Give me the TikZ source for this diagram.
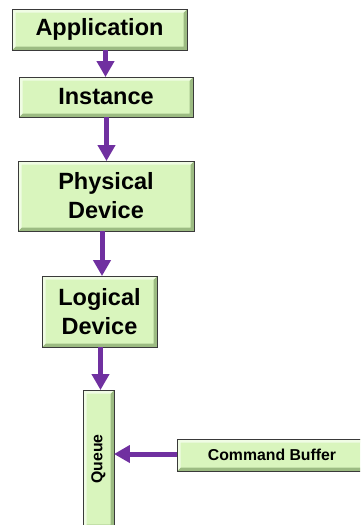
\documentclass[tikz,border=0pt]{standalone}
\usepackage{fontspec}
\setmainfont{Liberation Sans}
\usetikzlibrary{arrows.meta}
\definecolor{boxfill}{HTML}{D9F5BD}
\definecolor{bevdark}{HTML}{9CBB82}
\definecolor{bevlight}{HTML}{F0FCE4}
\definecolor{edge}{HTML}{3A3A3A}
\definecolor{flow}{HTML}{7030A0}
\tikzset{
  bevelbox/.style={draw=edge, line width=0.9pt, fill=boxfill, inner sep=0pt,
    align=center, text=black, anchor=center,
    path picture={
      \fill[bevdark] (path picture bounding box.south west)
        -- (path picture bounding box.south east)
        -- (path picture bounding box.north east)
        -- ([xshift=-3.5pt,yshift=-3.5pt]path picture bounding box.north east)
        -- ([xshift=-3.5pt,yshift=3.5pt]path picture bounding box.south east)
        -- ([xshift=3.5pt,yshift=3.5pt]path picture bounding box.south west) -- cycle;
      \fill[bevlight] (path picture bounding box.south west)
        -- (path picture bounding box.north west)
        -- (path picture bounding box.north east)
        -- ([xshift=-3.5pt,yshift=-3.5pt]path picture bounding box.north east)
        -- ([xshift=3.5pt,yshift=-3.5pt]path picture bounding box.north west)
        -- ([xshift=3.5pt,yshift=3.5pt]path picture bounding box.south west) -- cycle;
    }},
  bigtext/.style={font=\fontsize{23.5}{29}\selectfont\bfseries},
  smalltext/.style={font=\fontsize{15.8}{18}\selectfont\bfseries},
  flowarrow/.style={draw=flow, line width=5pt,
    -{Triangle[width=17pt,length=16pt]}, shorten >=-0.5pt}
}
\begin{document}
\begin{tikzpicture}[x=1pt,y=-1pt]
\useasboundingbox (0,0) rectangle (360,525);
\begin{scope}
\clip (0,0) rectangle (360,525);
\node[bevelbox, bigtext, minimum width=175pt, minimum height=41pt] (app) at (99.5,29.5) {Application};
\node[bevelbox, bigtext, minimum width=174pt, minimum height=40pt] (inst) at (106,97) {Instance};
\node[bevelbox, bigtext, minimum width=176pt, minimum height=70pt] (phys) at (106,196) {Physical\\Device};
\node[bevelbox, bigtext, minimum width=115pt, minimum height=71pt] (logi) at (99.5,311.5) {Logical\\Device};
\node[bevelbox, minimum width=31pt, minimum height=138pt] (queue) at (98.5,459) {};
\node[smalltext, rotate=90] (qlabel) at (queue.center) {Queue};
\node[bevelbox, smalltext, minimum width=190pt, minimum height=32pt] (cmd) at (272,455) {Command Buffer};

\draw[flowarrow] (app.south -| 105.5,0) -- (inst.north -| 105.5,0);
\draw[flowarrow] (inst.south -| 106.5,0) -- (phys.north -| 106.5,0);
\draw[flowarrow] (phys.south -| 102,0) -- (logi.north -| 102,0);
\draw[flowarrow] (logi.south -| 100.5,0) -- (queue.north -| 100.5,0);
\draw[flowarrow] (cmd.west |- 0,454) -- (queue.east |- 0,454);
\end{scope}
\end{tikzpicture}
\end{document}
